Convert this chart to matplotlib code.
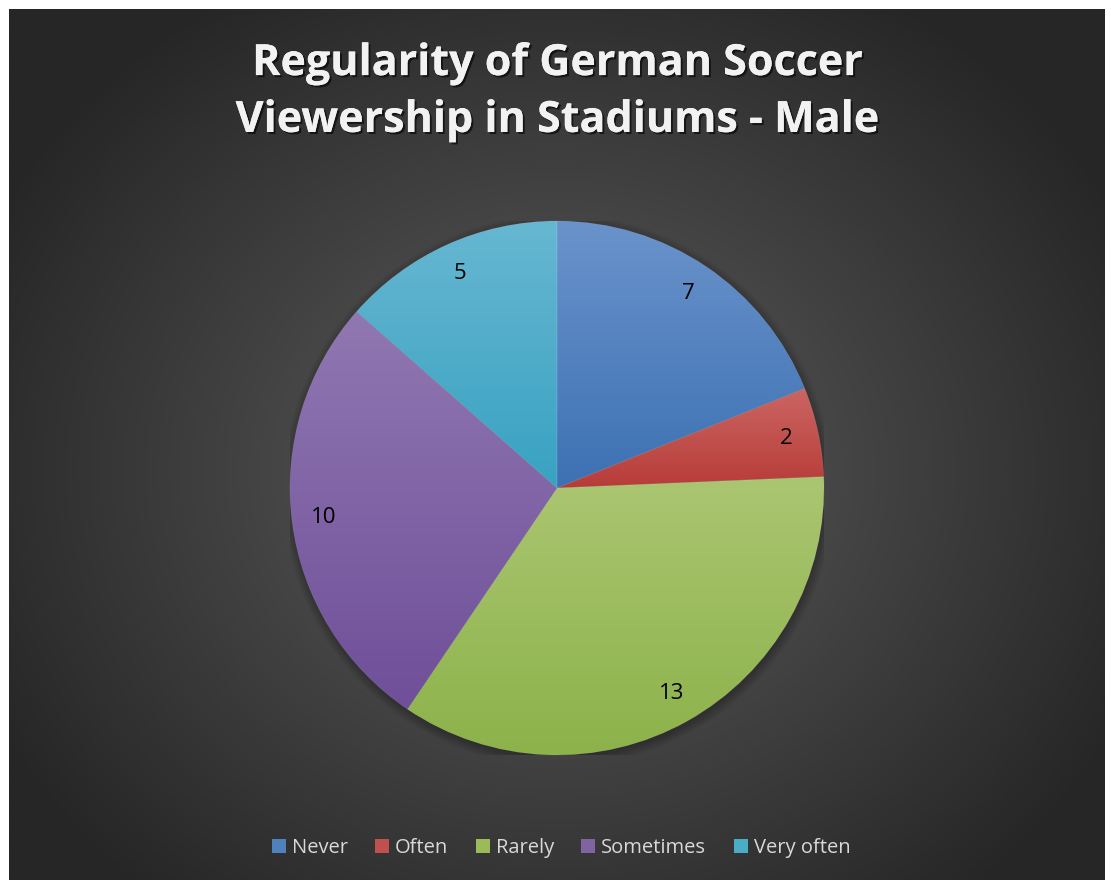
import matplotlib
matplotlib.use("Agg")
import matplotlib.pyplot as plt
import matplotlib.patheffects as pe
from matplotlib.colors import LinearSegmentedColormap, to_rgb
from matplotlib.patches import Rectangle, Circle
import numpy as np

plt.rcParams["font.family"] = ["Open Sans", "DejaVu Sans"]

categories = ["Never", "Often", "Rarely", "Sometimes", "Very often"]
counts = [7, 2, 13, 10, 5]
title = "Regularity of German Soccer\nViewership in Stadiums - Male"

# light (top) and dark (bottom) shade for each slice
tops = ["#6a93cb", "#cb6663", "#abc671", "#9078b2", "#67b7d1"]
bottoms = ["#3d71b3", "#b73c38", "#8cb24a", "#6f4f99", "#38a2c2"]
mids = ["#4f81bd", "#c0504d", "#9bbb59", "#8064a2", "#4bacc6"]

W, H = 1111, 880
fig = plt.figure(figsize=(W / 100, H / 100), dpi=100)
fig.patch.set_facecolor("white")

# background panel with a radial gradient
bg = fig.add_axes([0, 0, 1, 1])
bg.axis("off")
x0, x1, y0, y1 = 9, 1105, 9, 880
xx, yy = np.meshgrid(np.linspace(x0, x1, 400), np.linspace(y0, y1, 320))
d = np.sqrt(((xx - 557) / 640) ** 2 + ((yy - 470) / 560) ** 2)
d = np.clip(d, 0, 1)
c_in = np.array(to_rgb("#5e5e5e"))
c_out = np.array(to_rgb("#262626"))
img = c_in[None, None, :] * (1 - d[..., None]) + c_out[None, None, :] * d[..., None]
bg.imshow(img, extent=(x0, x1, y1, y0), aspect="auto", interpolation="bilinear")
bg.set_xlim(0, W)
bg.set_ylim(H, 0)

# pie axes: centre (557, 488) px, radius 267 px
cx, cy, r = 557, 488, 267
ax = fig.add_axes([(cx - r) / W, (H - cy - r) / H, 2 * r / W, 2 * r / H])
ax.axis("off")

# soft drop shadow under the pie
for k in range(8):
    ax.add_patch(Circle((0.004, -0.01), 0.99 + 0.006 * k, color="black",
                        alpha=0.04, lw=0, zorder=0))

wedges, texts = ax.pie(counts, startangle=90, counterclock=False, radius=1,
                       labels=[str(v) for v in counts], labeldistance=0.88,
                       colors=mids,
                       wedgeprops=dict(linewidth=0.5, edgecolor=(1, 1, 1, 0.12)),
                       textprops=dict(color="black", fontsize=16))
for t in texts:
    t.set_horizontalalignment("center")
    t.set_verticalalignment("center")
    t.set_zorder(5)

# vertical gradient fill clipped to each slice
grad = np.linspace(0, 1, 256)[:, None]
for w, top, bot in zip(wedges, tops, bottoms):
    v = w.get_path().vertices
    cmap = LinearSegmentedColormap.from_list("g", [top, bot])
    im = ax.imshow(grad, cmap=cmap, aspect="auto", interpolation="bilinear",
                   extent=(v[:, 0].min(), v[:, 0].max(), v[:, 1].min(), v[:, 1].max()),
                   zorder=w.get_zorder() + 0.1)
    im.set_clip_path(w)
    w.set_zorder(w.get_zorder() + 0.2)
    w.set_facecolor("none")
ax.set_xlim(-1, 1)
ax.set_ylim(-1, 1)

fig.text(557 / W, 1 - 92 / H, title, ha="center", va="center", color="#f2f2f2",
         fontsize=31, fontweight="bold", linespacing=1.42,
         path_effects=[pe.withSimplePatchShadow(offset=(1.5, -1.5), shadow_rgbFace="black", alpha=0.6),
                       pe.Normal()])

handles = [Rectangle((0, 0), 1, 1, facecolor=c, edgecolor="none") for c in mids]
leg = fig.legend(handles, categories, loc="center", bbox_to_anchor=(561 / W, 1 - 848 / H),
                 ncol=5, frameon=False, fontsize=14.5, handlelength=0.7, handleheight=0.7,
                 handletextpad=0.3, columnspacing=1.35, labelcolor="#d9d9d9")

fig.savefig("out.png", dpi=100, facecolor="white")
